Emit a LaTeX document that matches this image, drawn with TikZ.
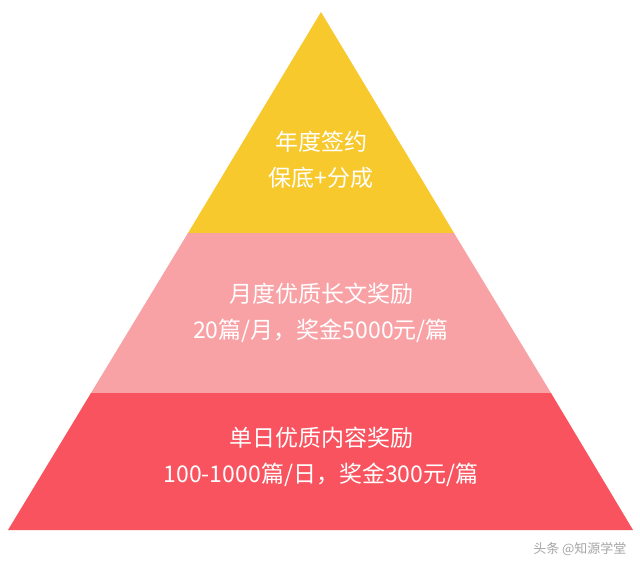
\documentclass[tikz,border=0pt]{standalone}
\usepackage{fontspec}
\setmainfont{Noto Sans CJK SC}
\definecolor{cy}{HTML}{F8C92C}
\definecolor{cp}{HTML}{F8A2A6}
\definecolor{cr}{HTML}{F8535E}
\tikzset{lbl/.style={text=white,font=\fontsize{23}{36}\selectfont,align=center}}
\begin{document}
\begin{tikzpicture}[x=1pt,y=-1pt]
\useasboundingbox (0,0) rectangle (640,570);
\fill[white] (0,0) rectangle (640,570);
\fill[cy] (321,12) -- (454,233) -- (188,233) -- cycle;
\fill[cp] (188,233) -- (454,233) -- (551,393) -- (91,393) -- cycle;
\fill[cr] (91,393) -- (551,393) -- (633,530) -- (8,530) -- cycle;
\node[lbl] (t1) at (321,160) {年度签约\\保底+分成};
\node[lbl] (t2) at (321,313) {月度优质长文奖励\\20篇/月，奖金5000元/篇};
\node[lbl] (t3) at (321,457) {单日优质内容奖励\\100-1000篇/日，奖金300元/篇};
\node[text=gray!70,font=\fontsize{13}{15}\selectfont,anchor=east] (wm) at (630,549) {头条 @知源学堂};
\end{tikzpicture}
\end{document}
